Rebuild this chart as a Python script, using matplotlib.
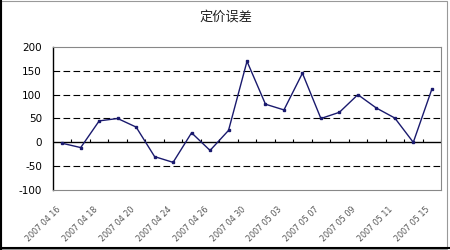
import matplotlib
matplotlib.use("Agg")
import matplotlib.pyplot as plt
from matplotlib.patches import Rectangle

title = "定价误差"
dates = ["2007 04 16", "2007 04 17", "2007 04 18", "2007 04 19", "2007 04 20",
         "2007 04 23", "2007 04 24", "2007 04 25", "2007 04 26", "2007 04 27",
         "2007 04 30", "2007 05 02", "2007 05 03", "2007 05 04", "2007 05 07",
         "2007 05 08", "2007 05 09", "2007 05 10", "2007 05 11", "2007 05 14",
         "2007 05 15"]
values = [-2, -11, 45, 50, 32, -30, -42, 20, -17, 25, 170,
          80, 68, 145, 50, 63, 100, 72, 51, 0, 111]
yticks = [-100, -50, 0, 50, 100, 150, 200]
grid_levels = [-50, 50, 100, 150]

plt.rcParams['font.family'] = ['DejaVu Sans']
fig = plt.figure(figsize=(4.5, 2.5), dpi=100)
ax = fig.add_axes([53/450, 60/250, 388/450, 143/250])

x = list(range(len(values)))
for g in grid_levels:
    ax.axhline(g, color='black', lw=0.8, ls=(0, (6, 3)), zorder=1)
ax.axhline(0, color='black', lw=1.0, zorder=2)
tick_pos = [k - 0.5 for k in range(1, len(values) + 1)]
ax.vlines(tick_pos, 0, 6, color='black', lw=0.8, zorder=2)

ax.plot(x, values, color='#1a1a6e', lw=1.0, marker='s', ms=1.6, zorder=3)

ax.set_xlim(-0.5, len(values) - 0.5)
ax.set_ylim(-100, 200)
ax.set_yticks(yticks)
ax.set_yticklabels([str(v) for v in yticks], fontsize=7.5)
ax.tick_params(axis='y', length=0, pad=8)
ax.set_xticks(x[::2])
ax.set_xticklabels(dates[::2], rotation=45, ha='right', va='top',
                   fontsize=5.8, color='#555555')
ax.tick_params(axis='x', length=0, pad=11)

for s in ['top', 'right', 'bottom']:
    ax.spines[s].set_color('#888888')
    ax.spines[s].set_linewidth(0.8)
ax.spines['left'].set_color('black')
ax.spines['left'].set_linewidth(1.0)

fig.text(226/450, 1 - 17/250, title, ha='center', va='center', fontsize=9.5,
         family=['Noto Sans CJK SC', 'DejaVu Sans'], color='#222222')

fig.patches.append(Rectangle((0.002, 0.006), 0.992, 0.99, transform=fig.transFigure,
                             fill=False, ec='#999999', lw=0.8))
fig.add_artist(plt.Line2D([0.002, 0.002], [0.0, 1.0], transform=fig.transFigure, color='black', lw=1.5))
fig.add_artist(plt.Line2D([0, 1], [0.008, 0.008], transform=fig.transFigure, color='black', lw=1.5))

fig.savefig("out.png", dpi=100)
